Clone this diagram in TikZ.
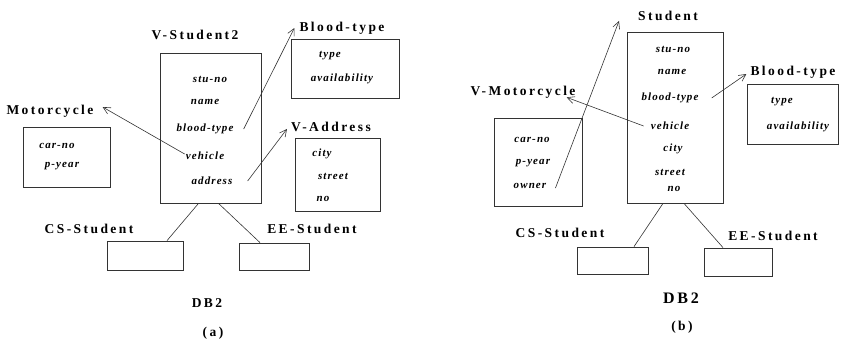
\documentclass[tikz,border=0pt]{standalone}
\usepackage{fontspec}
\setmainfont{Liberation Serif}
\usetikzlibrary{arrows.meta}
\newfontfamily\lblfont[LetterSpace=18]{Liberation Serif}
\tikzset{
	lbl/.style={font=\lblfont\bfseries\fontsize{13.5}{15}\selectfont, inner sep=1pt},
	attr/.style={font=\addfontfeature{LetterSpace=10}\bfseries\itshape\fontsize{11}{12}\selectfont, inner sep=1pt},
	tbl/.style={rectangle, draw=black!80, line width=0.8pt},
	link/.style={draw=black!80, line width=0.6pt},
	arrow/.style={link, -{Straight Barb[length=7pt,width=7pt]}},
}

\begin{document}
\begin{tikzpicture}[x=1pt,y=-1pt]
\useasboundingbox (0,0) rectangle (842,340);

% (a)
\node [tbl, minimum width=101pt, minimum height=150pt] (a-stu) at (210.5,128) {};
\node [lbl] (a-stul) at (195,35) {V-Student2};
\node [attr] (a-sno) at (210,79) {stu-no};
\node [attr] (a-nam) at (205,102) {name};
\node [attr] (a-bt) at (205,129) {blood-type};
\node [attr] (a-veh) at (205,156) {vehicle};
\node [attr] (a-adr) at (212,181) {address};

\node [tbl, minimum width=108pt, minimum height=59pt] (a-bty) at (345,68.5) {};
\node [lbl] (a-btyl) at (342,28) {Blood-type};
\node [attr] (a-typ) at (330,56) {type};
\node [attr] (a-av) at (342,79) {availability};

\node [tbl, minimum width=87pt, minimum height=60pt] (a-mc) at (66.5,157) {};
\node [lbl] (a-mcl) at (50,111) {Motorcycle};
\node [attr] (a-cno) at (57,146) {car-no};
\node [attr] (a-py) at (62,166) {p-year};

\node [tbl, minimum width=85pt, minimum height=73pt] (a-va) at (337.5,174.5) {};
\node [lbl] (a-val) at (331,127) {V-Address};
\node [attr] (a-cit) at (322,154) {city};
\node [attr] (a-str) at (333,176) {street};
\node [attr] (a-no) at (323,199) {no};

\node [tbl, minimum width=76pt, minimum height=29pt] (a-cs) at (145,255.5) {};
\node [lbl] (a-csl) at (89,229) {CS-Student};
\node [tbl, minimum width=70pt, minimum height=27pt] (a-ee) at (274,256.5) {};
\node [lbl] (a-eel) at (312,229) {EE-Student};

\node [lbl] (a-db) at (207,303) {DB2};
\node [lbl] (a-cap) at (213,333) {(a)};

\draw [arrow] ([xshift=9pt]a-bt.east) -- ([xshift=-4pt]a-btyl.west);
\draw [arrow] ([yshift=2pt]a-veh.west) -- ([xshift=8pt,yshift=4pt]a-mcl.east);
\draw [arrow] ([xshift=14pt]a-adr.east) -- ([xshift=-3pt,yshift=4pt]a-val.south west);
\draw [link] ([xshift=-12pt]a-stu.south) -- ([xshift=22pt]a-cs.north);
\draw [link] ([xshift=8pt]a-stu.south) -- ([xshift=-14pt]a-ee.north);

% (b)
\node [tbl, minimum width=96pt, minimum height=171pt] (b-stu) at (675,117.5) {};
\node [lbl] (b-stul) at (668,16) {Student};
\node [attr] (b-sno) at (673,49) {stu-no};
\node [attr] (b-nam) at (672,72) {name};
\node [attr] (b-bt) at (670,98) {blood-type};
\node [attr] (b-veh) at (670,126) {vehicle};
\node [attr] (b-cit) at (673,149) {city};
\node [attr] (b-str) at (670,172) {street};
\node [attr] (b-no) at (674,189) {no};

\node [tbl, minimum width=88pt, minimum height=88pt] (b-vm) at (538,162) {};
\node [lbl] (b-vml) at (523,92) {V-Motorcycle};
\node [attr] (b-cno) at (532,140) {car-no};
\node [attr] (b-py) at (533,163) {p-year};
\node [attr] (b-own) at (530,186) {owner};

\node [tbl, minimum width=91pt, minimum height=60pt] (b-bty) at (792.5,114) {};
\node [lbl] (b-btyl) at (793,72) {Blood-type};
\node [attr] (b-typ) at (782,102) {type};
\node [attr] (b-av) at (798,127) {availability};

\node [tbl, minimum width=71pt, minimum height=27pt] (b-cs) at (612.5,260.5) {};
\node [lbl] (b-csl) at (560,233) {CS-Student};
\node [tbl, minimum width=68pt, minimum height=28pt] (b-ee) at (738,262) {};
\node [lbl] (b-eel) at (773,236) {EE-Student};

\node [lbl, font=\lblfont\bfseries\fontsize{16}{18}\selectfont] (b-db) at (681,298) {DB2};
\node [lbl] (b-cap) at (682,327) {(b)};

\draw [arrow] ([xshift=8pt,yshift=-2pt]b-own.east) -- ([xshift=-18pt,yshift=1pt]b-stul.south west);
\draw [arrow] ([xshift=-6pt]b-veh.west) -- ([xshift=-10pt,yshift=2pt]b-vml.south east);
\draw [arrow] ([xshift=12pt]b-bt.east) -- ([xshift=-3pt,yshift=-2pt]b-btyl.west);
\draw [link] ([xshift=-12pt]b-stu.south) -- ([xshift=21.5pt]b-cs.north);
\draw [link] ([xshift=9pt]b-stu.south) -- ([xshift=-15pt]b-ee.north);
\end{tikzpicture}
\end{document}
